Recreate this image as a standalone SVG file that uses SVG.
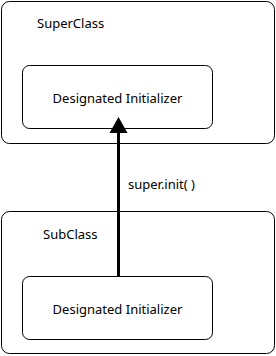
<svg xmlns="http://www.w3.org/2000/svg" width="276" height="356" viewBox="0 0 276 356">
<style>
.box{fill:#fff;stroke:#000;stroke-width:1}
text{font-family:"Noto Sans","Noto Sans CJK KR",sans-serif;font-size:13px;fill:#000}
.c{text-anchor:middle}
</style>
<g id="superclass">
<rect class="box" x="1.5" y="1.5" width="273" height="142" rx="8"/>
<text x="37" y="28">SuperClass</text>
</g>
<g id="super-init">
<rect class="box" x="22.5" y="65.5" width="190" height="63" rx="7"/>
<text class="c" x="117.5" y="103">Designated Initializer</text>
</g>
<g id="subclass">
<rect class="box" x="1.5" y="211.5" width="273" height="142" rx="8"/>
<text x="43" y="239">SubClass</text>
</g>
<g id="sub-init">
<rect class="box" x="22.5" y="276.5" width="190" height="63" rx="7"/>
<text class="c" x="117.5" y="314">Designated Initializer</text>
</g>
<g id="connectors">
<line x1="118.5" y1="276.5" x2="118.5" y2="133" stroke="#000" stroke-width="3"/>
<path d="M118.5,117 L127.5,133 L109.5,133 Z" fill="#000"/>
<text x="128" y="189">super.init( )</text>
</g>
</svg>
